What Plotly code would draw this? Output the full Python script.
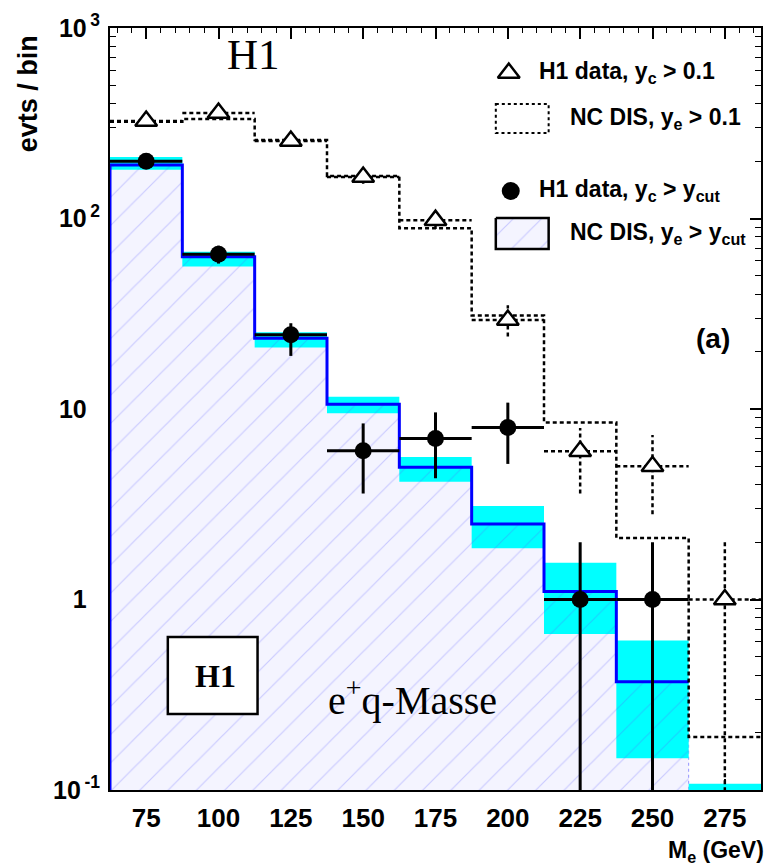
import plotly.graph_objects as go

# ---------------- data ----------------
edges = [62.5, 87.5, 112.5, 137.5, 162.5, 187.5, 212.5, 237.5, 262.5, 287.5]
centers = [75, 100, 125, 150, 175, 200, 225, 250, 275]
x_ticks = [75, 100, 125, 150, 175, 200, 225, 250, 275]

# NC DIS, y_e > y_cut (hatched histogram) with uncertainty band
mc_cut = [191, 63, 23.5, 10.6, 4.94, 2.49, 1.10, 0.37, 0.08]
mc_cut_hi = [210, 67, 25.3, 11.6, 5.6, 3.1, 1.56, 0.61, 0.108]
mc_cut_lo = [180, 56, 21.0, 9.5, 4.15, 1.86, 0.66, 0.147, 0.05]

# NC DIS, y_e > 0.1 (dashed histogram)
mc_01 = [322, 333, 258, 167, 89, 31, 8.5, 2.1, 0.19]

# H1 data, y_c > y_cut (filled circles)
d_cut_x = [75, 100, 125, 150, 175, 200, 225, 250]
d_cut = [200, 65, 24.5, 6.04, 7.0, 8.0, 1.0, 1.0]
d_cut_hi = [214, 72, 28.2, 8.4, 9.6, 10.8, 2.0, 2.0]
d_cut_lo = [186, 58, 19.0, 3.6, 4.33, 5.15, 0.05, 0.05]

# H1 data, y_c > 0.1 (open triangles)
d_01 = [325, 358, 255, 165, 98, 29.3, 6.0, 5.0, 1.0]
d_01_hi = [343, 377, 271, 178, 108, 35, 7.95, 7.3, 2.0]
d_01_lo = [307, 339, 239, 152, 88, 24, 3.6, 2.8, 0.05]

y_tickvals = [0.1, 1, 10, 100, 1000]
y_tickbase = ["10", "1", "10", "10", "10"]
y_tickexp = ["-1", "", "", "2", "3"]

# ---------------- styling ----------------
YMIN, YMAX = 0.1, 1000
BASE = 0.01
SANS = "Liberation Sans, Arial, sans-serif"
SERIF = "Liberation Serif, Times New Roman, serif"
BLUE = "#0000ff"
CYAN = "#00ffff"
LAV = "#f4f4ff"
HATCH = "rgba(90,90,255,0.55)"
half = [(edges[i + 1] - edges[i]) / 2 for i in range(len(centers))]

fig = go.Figure()

# histogram polygon (fill)
px, py = [edges[0]], [BASE]
for i, v in enumerate(mc_cut):
    px += [edges[i], edges[i + 1]]
    py += [v, v]
px.append(edges[-1]); py.append(BASE)
fig.add_trace(go.Scatter(x=px, y=py, mode="lines", fill="toself", fillcolor=LAV,
                         line=dict(color="rgba(120,120,255,0.8)", width=1, dash="dot"),
                         hoverinfo="skip", showlegend=False))

# cyan uncertainty bands
bx, by = [], []
for i in range(len(centers)):
    bx += [edges[i], edges[i + 1], edges[i + 1], edges[i], edges[i], None]
    by += [mc_cut_lo[i], mc_cut_lo[i], mc_cut_hi[i], mc_cut_hi[i], mc_cut_lo[i], None]
fig.add_trace(go.Scatter(x=bx, y=by, mode="lines", fill="toself", fillcolor=CYAN,
                         line=dict(width=0, color=CYAN), hoverinfo="skip", showlegend=False))

# hatch pattern over histogram
fig.add_trace(go.Scatter(x=px, y=py, mode="lines", fill="toself", fillcolor="rgba(0,0,0,0)",
                         fillpattern=dict(shape="/", fgcolor=HATCH, bgcolor="rgba(0,0,0,0)",
                                          size=20, solidity=0.06),
                         line=dict(width=0, color="rgba(0,0,0,0)"), hoverinfo="skip", showlegend=False))

# solid blue step line (visible bins)
sx, sy = [edges[0]], [BASE]
for i, v in enumerate(mc_cut):
    if v < YMIN:
        break
    sx += [edges[i], edges[i + 1]]
    sy += [v, v]
fig.add_trace(go.Scatter(x=sx, y=sy, mode="lines", line=dict(color=BLUE, width=3),
                         hoverinfo="skip", showlegend=False))

# dashed NC DIS y_e > 0.1 step line
dx, dy = [], []
for i, v in enumerate(mc_01):
    dx += [edges[i], edges[i + 1]]
    dy += [v, v]
fig.add_trace(go.Scatter(x=dx, y=dy, mode="lines", line=dict(color="black", width=2.5, dash="4px,3px"),
                         hoverinfo="skip", showlegend=False))

# triangle error bars (dashed)
ex, ey = [], []
for i, c in enumerate(centers):
    ex += [c - half[i], c + half[i], None, c, c, None]
    ey += [d_01[i], d_01[i], None, d_01_lo[i], d_01_hi[i], None]
fig.add_trace(go.Scatter(x=ex, y=ey, mode="lines", line=dict(color="black", width=2.5, dash="4px,3px"),
                         hoverinfo="skip", showlegend=False))
fig.add_trace(go.Scatter(x=centers, y=d_01, mode="markers",
                         marker=dict(symbol="triangle-up", size=19, color="white",
                                     line=dict(color="black", width=2.5)),
                         hoverinfo="skip", showlegend=False))

# filled circles with error bars
fig.add_trace(go.Scatter(
    x=d_cut_x, y=d_cut, mode="markers",
    marker=dict(symbol="circle", size=17, color="black"),
    error_y=dict(type="data", symmetric=False,
                 array=[h - v for h, v in zip(d_cut_hi, d_cut)],
                 arrayminus=[v - l for v, l in zip(d_cut, d_cut_lo)],
                 color="black", thickness=3, width=0),
    error_x=dict(type="data", array=half[:len(d_cut_x)], color="black", thickness=3, width=0),
    hoverinfo="skip", showlegend=False))

# ---------------- legend & labels on pixel overlay axes ----------------
L, R, T, B = 110, 763, 28, 790
fig.add_trace(go.Scatter(x=[510], y=[73], xaxis="x2", yaxis="y2", mode="markers",
                         marker=dict(symbol="triangle-up", size=19, color="white",
                                     line=dict(color="black", width=2.5)),
                         hoverinfo="skip", showlegend=False))
fig.add_trace(go.Scatter(x=[512], y=[191], xaxis="x2", yaxis="y2", mode="markers",
                         marker=dict(symbol="circle", size=18, color="black"),
                         hoverinfo="skip", showlegend=False))
fig.add_trace(go.Scatter(x=[497, 550, 550, 497, 497], y=[218, 218, 249, 249, 218], xaxis="x2", yaxis="y2",
                         mode="lines", fill="toself", fillcolor=LAV,
                         fillpattern=dict(shape="/", fgcolor=HATCH, bgcolor=LAV, size=20, solidity=0.06),
                         line=dict(color="black", width=2.5), hoverinfo="skip", showlegend=False))

shapes = [
    dict(type="rect", xref="x2", yref="y2", x0=497, x1=550, y0=104, y1=133,
         line=dict(color="black", width=2, dash="3px,3px"), fillcolor="rgba(0,0,0,0)"),
    dict(type="rect", xref="x2", yref="y2", x0=168, x1=258, y0=637, y1=714,
         line=dict(color="black", width=2.5), fillcolor="white", layer="above"),
]

ann = []
def txt(x, y, s, size, family=SANS, bold=True, xanchor="left", **kw):
    ann.append(dict(x=x, y=y, xref="x2", yref="y2", text=s, showarrow=False,
                    xanchor=xanchor, yanchor="middle",
                    font=dict(family=family, size=size, color="black",
                              weight="bold" if bold else "normal"), **kw))

txt(538, 72, "H1 data, y<sub>c</sub> > 0.1", 23)
txt(569, 118, "NC DIS, y<sub>e</sub> > 0.1", 23)
txt(538, 190, "H1 data, y<sub>c</sub> > y<sub>cut</sub>", 23)
txt(569, 233, "NC DIS, y<sub>e</sub> > y<sub>cut</sub>", 23)
txt(715, 338, "(a)", 28, xanchor="center")
txt(254, 54, "H1", 43, family=SERIF, bold=False, xanchor="center")
txt(413, 697, "e<sup>+</sup>q-Masse", 40, family=SERIF, bold=False, xanchor="center")
txt(216, 676, "H1", 32, family=SERIF, bold=True, xanchor="center")

# axis titles (paper-based)
ann.append(dict(x=-82 / (R - L), y=(B - 94) / (B - T), xref="paper", yref="paper",
                text="evts / bin", showarrow=False, textangle=-90,
                xanchor="center", yanchor="middle",
                font=dict(family=SANS, size=27, color="black", weight="bold")))
ann.append(dict(x=(768 - L) / (R - L), y=-(851 - B) / (B - T), xref="paper", yref="paper",
                text="M<sub>e</sub> (GeV)", showarrow=False,
                xanchor="right", yanchor="middle",
                font=dict(family=SANS, size=23, color="black", weight="bold")))

def sup(e, visible=True):
    if visible:
        return "<sup>\u2009" + e + "</sup>"
    return "<sup><span style='color:rgba(0,0,0,0)'>\u20092</span></sup>"

ytext = [b + (sup(e) if e else sup("", False)) for b, e in zip(y_tickbase, y_tickexp)]
minor_y = [m * 10 ** k for k in range(-1, 3) for m in range(2, 10)]

fig.update_layout(
    width=770, height=867, margin=dict(l=L, r=770 - R, t=T, b=867 - B),
    paper_bgcolor="white", plot_bgcolor="white", showlegend=False,
    shapes=shapes, annotations=ann,
    xaxis=dict(range=[edges[0], edges[-1]], tickvals=x_ticks, ticktext=[str(v) for v in x_ticks],
               ticks="inside", ticklen=11, tickwidth=1.5, tickcolor="black",
               showline=True, linecolor="black", linewidth=2, mirror="ticks",
               showgrid=False, zeroline=False, layer="below traces",
               ticklabelstandoff=4,
               tickfont=dict(family=SANS, size=26, color="black", weight="bold"),
               minor=dict(tick0=0, dtick=5, ticks="inside", ticklen=5, tickcolor="black", tickwidth=1)),
    yaxis=dict(type="log", range=[-1, 3], tickvals=y_tickvals, ticktext=ytext,
               ticks="inside", ticklen=11, tickwidth=1.5, tickcolor="black",
               showline=True, linecolor="black", linewidth=2, mirror="ticks",
               showgrid=False, zeroline=False, layer="below traces",
               ticklabelstandoff=3,
               tickfont=dict(family=SANS, size=25, color="black", weight="bold"),
               minor=dict(tickvals=minor_y, ticks="inside", ticklen=6, tickcolor="black", tickwidth=1)),
    xaxis2=dict(overlaying="x", anchor="y2", range=[L, R], visible=False, fixedrange=True),
    yaxis2=dict(overlaying="y", anchor="x2", range=[B, T], visible=False, fixedrange=True),
)

fig.write_html("out.html")
